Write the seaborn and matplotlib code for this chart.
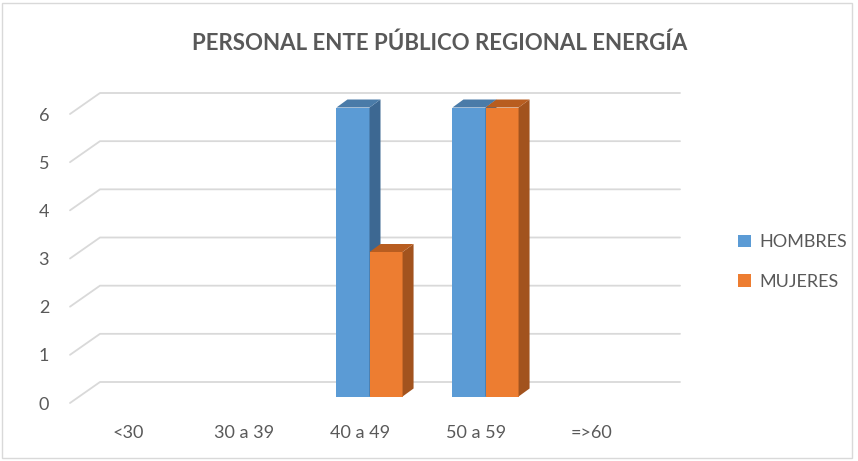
import numpy as np
import pandas as pd
import seaborn as sns
import matplotlib.pyplot as plt
from matplotlib.patches import Polygon, Rectangle
from matplotlib.transforms import ScaledTranslation, IdentityTransform

categories = ['<30', '30 a 39', '40 a 49', '50 a 59', '=>60']
series_names = ['HOMBRES', 'MUJERES']
hombres = [0, 0, 6, 6, 0]
mujeres = [0, 0, 3, 6, 0]
y_ticks = [0, 1, 2, 3, 4, 5, 6]
title = 'PERSONAL ENTE PÚBLICO REGIONAL ENERGÍA'

front_colors = ['#5B9BD5', '#ED7D31']
side_colors = ['#3D6892', '#A2531E']
top_colors = ['#4A7BA8', '#B85D20']
grid_color = '#D9D9D9'
text_color = '#595959'

df = pd.DataFrame({
    'grupo': categories * 2,
    'serie': [series_names[0]] * len(categories) + [series_names[1]] * len(categories),
    'valor': hombres + mujeres,
})

sns.set_theme(style='white')
plt.rcParams['font.family'] = ['Lato', 'DejaVu Sans']

W, H = 858, 461
fig = plt.figure(figsize=(W / 100, H / 100), dpi=100)
ax = fig.add_axes([70 / W, 1 - 403 / H, 580 / W, 289 / H])

sns.barplot(data=df, x='grupo', y='valor', hue='serie', order=categories,
            hue_order=series_names, palette=front_colors, width=0.57,
            saturation=1, linewidth=0, ax=ax, legend=False)
ax.set_ylim(0, 6)
ax.set_xlim(-0.5, len(categories) - 0.5)
for s in ax.spines.values():
    s.set_visible(False)
ax.set_xlabel('')
ax.set_ylabel('')
ax.set_yticks(y_ticks)
ax.tick_params(axis='both', length=0, labelsize=13, labelcolor=text_color)
ax.tick_params(axis='y', pad=15)
ax.tick_params(axis='x', pad=16)


def px(dx, dy):
    return ScaledTranslation(dx / 100, dy / 100, fig.dpi_scale_trans)


# floor depth and bar depth in pixels
fx, fy = 30, 21
bx, by = 11, 8
mx, my = (fx - bx) / 2, (fy - by) / 2

# 3D gridlines: diagonal on the left wall, horizontal on the back wall
ytr = ax.get_yaxis_transform()
for v in y_ticks:
    p0 = ytr.transform((0, v))
    p1 = ytr.transform((1, v))
    ax.add_line(plt.Line2D([p0[0], p0[0] + fx, p1[0] + fx],
                           [p0[1], p0[1] + fy, p0[1] + fy], color=grid_color,
                           lw=1.3, transform=IdentityTransform(), clip_on=False, zorder=0))

# 3D bars
n = len(categories)
for i, patch in enumerate(list(ax.patches)):
    k = i // n
    z = 2 + k * 3
    patch.set_zorder(z)
    patch.set_clip_on(False)
    patch.set_transform(ax.transData + px(mx, my))
    h = patch.get_height()
    if h <= 0:
        patch.set_visible(False)
        continue
    x0, x1 = patch.get_x(), patch.get_x() + patch.get_width()
    a = ax.transData.transform([(x0, 0), (x1, 0), (x1, h), (x0, h)]) + [mx, my]
    side = [a[1], a[2], a[2] + [bx, by], a[1] + [bx, by]]
    top = [a[3], a[2], a[2] + [bx, by], a[3] + [bx, by]]
    ax.add_patch(Polygon(side, closed=True, fc=side_colors[k], ec='none',
                         transform=IdentityTransform(), clip_on=False, zorder=z + 1))
    ax.add_patch(Polygon(top, closed=True, fc=top_colors[k], ec='none',
                         transform=IdentityTransform(), clip_on=False, zorder=z + 1))

# legend
handles = [Rectangle((0, 0), 1, 1, fc=c, ec='none') for c in front_colors]
ax.legend(handles, series_names, loc='center left', frameon=False,
          bbox_to_anchor=(738 / W, 1 - 262 / H), bbox_transform=fig.transFigure,
          borderaxespad=0, borderpad=0,
          handlelength=0.7, handleheight=0.7, handletextpad=0.5, labelspacing=1.3,
          fontsize=13, labelcolor=text_color)

fig.text(440 / W, 1 - 43 / H, title, ha='center', va='center', fontsize=16,
         fontweight='bold', color=text_color)

fig.patches.append(Rectangle((2 / W, 3 / H), 850 / W, 455 / H, fill=False,
                             ec=grid_color, lw=1, transform=fig.transFigure))

fig.savefig('out.png', dpi=100)
